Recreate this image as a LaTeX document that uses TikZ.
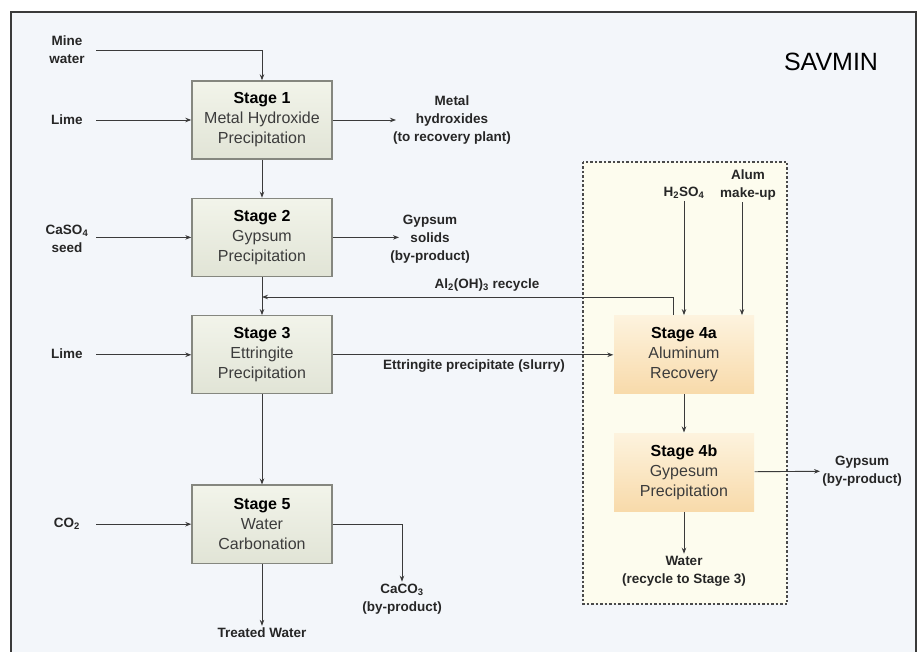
\documentclass[tikz,border=0pt]{standalone}
\usepackage{fontspec}
\setmainfont{Liberation Sans}
\usetikzlibrary{arrows.meta}
\usetikzlibrary{positioning}

\definecolor{frameline}{HTML}{3A3A3A}
\definecolor{bgblue}{HTML}{F3F6FA}
\definecolor{boxline}{HTML}{4A4A4A}
\definecolor{boxfill}{HTML}{FDFCEE}
\definecolor{stageline}{HTML}{85877F}
\definecolor{stagetop}{HTML}{F2F4EA}
\definecolor{stagebot}{HTML}{E1E4D6}
\definecolor{stagetext}{HTML}{3C3C3C}
\definecolor{recovtop}{HTML}{FDF3DE}
\definecolor{recovbot}{HTML}{F8DAAA}
\definecolor{flowline}{HTML}{3A3A3A}

\begin{document}
\begin{tikzpicture}[
          x=1pt, y=-1pt,
          node distance=38pt,
          stage/.style={
            draw=stageline,
            line width=1.4pt,
            top color=stagetop,
            bottom color=stagebot,
            minimum width=140pt,
            minimum height=78pt,
            align=center,
            text=stagetext,
            font=\fontsize{16}{20}\selectfont},
          recov/.style={
            stage,
            draw=none,
            top color=recovtop,
            bottom color=recovbot},
          feed/.style={
            text width=58pt,
            inner sep=0pt,
            align=center,
            text=black!85,
            font=\fontsize{13.5}{18}\selectfont\bfseries},
          tag/.style={
            inner sep=2pt,
            align=center,
            text=black!85,
            font=\fontsize{13.5}{18}\selectfont\bfseries},
          flow/.style={
            -{Stealth[length=6pt,width=4.5pt]},
            line width=0.9pt,
            draw=flowline},
        ]
          \useasboundingbox (0,0) rectangle (922,652);
          \fill[bgblue] (11,12) rectangle (916,652);
          \draw[frameline, line width=2pt] (11,652) -- (11,12) -- (916,12) -- (916,652);
          \draw[boxline, fill=boxfill, line width=1.2pt, dash pattern=on 2.5pt off 2pt]
            (583,162) rectangle (787,604);

          \node[font=\fontsize{25}{30}\selectfont] (title) at (831,62) {SAVMIN};

          \node[stage] (s1) at (262,120) {\textcolor{black}{\textbf{Stage 1}}\\Metal Hydroxide\\Precipitation};
          \node[stage] (s2) [below=of s1] {\textcolor{black}{\textbf{Stage 2}}\\Gypsum\\Precipitation};
          \node[stage] (s3) [below=of s2] {\textcolor{black}{\textbf{Stage 3}}\\Ettringite\\Precipitation};
          \node[stage] (s5) [below=90pt of s3] {\textcolor{black}{\textbf{Stage 5}}\\Water\\Carbonation};
          \node[recov] (s4a) at (s3 -| 684,0) {\textcolor{black}{\textbf{Stage 4a}}\\Aluminum\\Recovery};
          \node[recov] (s4b) [below=of s4a] {\textcolor{black}{\textbf{Stage 4b}}\\Gypesum\\Precipitation};

          \node[feed] (mine) at (67,50) {Mine\\water};
          \node[feed] (lime1) at (67,120) {Lime};
          \node[feed] (seed) at (67,239) {CaSO\textsubscript{4}\\seed};
          \node[feed] (lime3) at (67,354) {Lime};
          \node[feed] (co2) at (67,524) {CO\textsubscript{2}};

          \node[tag] (metal) at (452,120) {Metal\\hydroxides\\(to recovery plant)};
          \coordinate (metalin) at (396,120);
          \node[tag] (gyp2) at (430,239) {Gypsum\\solids\\(by-product)};
          \coordinate (gyp2in) at (399,239);
          \node[tag] (recycle) at (487,285) {Al\textsubscript{2}(OH)\textsubscript{3} recycle};
          \coordinate (rc) at (673,297);
          \node[tag] (slurry) at (474,366) {Ettringite precipitate (slurry)};
          \node[tag] (h2so4) at (684,193) {H\textsubscript{2}SO\textsubscript{4}};
          \node[tag] (alum) at (748,185) {Alum\\make-up};
          \node[tag] (gyp4) at (862,471) {Gypsum\\(by-product)};
          \node[tag] (water4) at (684,571) {Water\\(recycle to Stage 3)};
          \node[tag] (caco3) at (402,599) {CaCO\textsubscript{3}\\(by-product)};
          \node[tag] (treated) at (262,633) {Treated Water};

          \draw[flow] (mine.east) -| (s1);
          \draw[flow] (lime1.east |- s1) -- (s1);
          \draw[flow] (seed.east |- s2) -- (s2);
          \draw[flow] (lime3.east |- s3) -- (s3);
          \draw[flow] (co2.east |- s5) -- (s5);
          \draw[flow] (s1) -- (s2);
          \draw[flow] (s2) -- (s3);
          \draw[flow] (s3) -- (s5);
          \draw[flow] (s5) -- (treated);
          \draw[flow] (s5.east) -| (caco3);
          \draw[flow] (s1.east) -- (s1.east -| metalin);
          \draw[flow] (s2.east) -- (s2.east -| gyp2in);
          \draw[flow] (s3.east) -- (s4a.west);
          \draw[flow] (s4a.north -| rc) -- (rc) -- (rc -| s2);
          \draw[flow] (h2so4.south) -- (h2so4.south |- s4a.north);
          \draw[flow] (alum.south -| 742,0) -- (s4a.north -| 742,0);
          \draw[flow] (s4a) -- (s4b);
          \draw[flow] (s4b) -- (gyp4);
          \draw[flow] (s4b) -- (water4);
        \end{tikzpicture}
\end{document}
